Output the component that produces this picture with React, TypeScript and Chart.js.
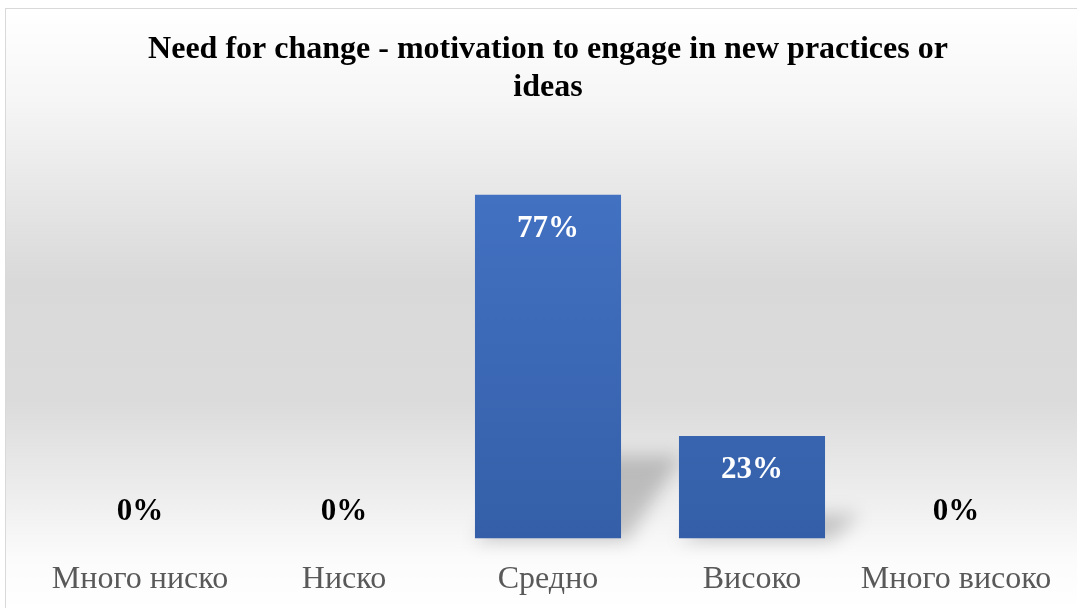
import React, { useEffect, useRef } from "react";
import { Chart, registerables } from "chart.js";

Chart.register(...registerables);

const categories = ["Много ниско", "Ниско", "Средно", "Високо", "Много високо"];
const values = [0, 0, 77, 23, 0];
const titleLines = ["Need for change - motivation to engage in new practices or", "ideas"];

const SERIF = "'Liberation Serif', 'Times New Roman', serif";
const VISIBLE_H = 603;
const CANVAS_H = 632;

const bgPlugin = {
  id: "bgGradient",
  beforeDraw(chart: any) {
    const { ctx, width, height } = chart;
    const g = ctx.createLinearGradient(0, 0, 0, VISIBLE_H);
    g.addColorStop(0, "#ffffff");
    g.addColorStop(0.15, "#f6f6f6");
    g.addColorStop(0.45, "#d9d9d9");
    g.addColorStop(0.65, "#dbdbdb");
    g.addColorStop(0.81, "#eeeeee");
    g.addColorStop(0.91, "#fbfbfb");
    g.addColorStop(1, "#ffffff");
    ctx.save();
    ctx.fillStyle = g;
    ctx.fillRect(0, 0, width, height);
    ctx.restore();
  },
};

const shadowPlugin = {
  id: "barShadow",
  beforeDatasetsDraw(chart: any) {
    const { ctx } = chart;
    const meta = chart.getDatasetMeta(0);
    ctx.save();
    ctx.filter = "blur(9px)";
    ctx.fillStyle = "rgba(0,0,0,0.2)";
    meta.data.forEach((bar: any, i: number) => {
      const v = values[i];
      if (!v) return;
      const half = bar.width / 2;
      const left = bar.x - half;
      const right = bar.x + half;
      const base = bar.base;
      const h = base - bar.y;
      const sh = h * 0.24;
      const s = 24 + sh * 0.45;
      ctx.beginPath();
      ctx.moveTo(left, base + 2);
      ctx.lineTo(right + 6, base + 2);
      ctx.lineTo(right + s, base - sh);
      ctx.lineTo(left + s, base - sh);
      ctx.closePath();
      ctx.fill();
    });
    ctx.restore();
  },
};

const labelPlugin = {
  id: "valueLabels",
  afterDatasetsDraw(chart: any) {
    const { ctx } = chart;
    const meta = chart.getDatasetMeta(0);
    ctx.save();
    ctx.font = `bold 31px ${SERIF}`;
    ctx.textAlign = "center";
    ctx.textBaseline = "middle";
    meta.data.forEach((bar: any, i: number) => {
      const v = values[i];
      const txt = `${v}%`;
      if (v > 0) {
        ctx.fillStyle = "#ffffff";
        ctx.fillText(txt, bar.x, bar.y + 34);
      } else {
        ctx.fillStyle = "#000000";
        ctx.fillText(txt, bar.x, bar.base - 27);
      }
    });
    ctx.restore();
  },
};

export default function App() {
  const ref = useRef<HTMLCanvasElement | null>(null);
  useEffect(() => {
    if (!ref.current) return;
    const chart = new Chart(ref.current, {
      type: "bar",
      data: {
        labels: categories,
        datasets: [
          {
            data: values,
            backgroundColor: (c: any) => {
              const ch = c.chart;
              const area = ch.chartArea;
              if (!area) return "#4472c4";
              const el = c.element;
              const top = el && typeof el.y === "number" ? el.y : area.top;
              const base = el && typeof el.base === "number" ? el.base : area.bottom;
              const g = ch.ctx.createLinearGradient(0, top, 0, Math.max(base, top + 1));
              g.addColorStop(0, "#4574c6");
              g.addColorStop(1, "#345fa8");
              return g;
            },
            borderWidth: 0,
            categoryPercentage: 1,
            barPercentage: 0.716,
          },
        ],
      },
      options: {
        responsive: false,
        animation: false,
        layout: { padding: { left: 32, right: 32, top: 0, bottom: 20 } },
        plugins: {
          legend: { display: false },
          tooltip: { enabled: false },
          title: {
            display: true,
            text: titleLines,
            color: "#000000",
            font: { family: SERIF, size: 32, weight: "bold", lineHeight: 1.16 },
            padding: { top: 22.6, bottom: 30.8 },
          },
        },
        scales: {
          x: {
            grid: { display: false, drawTicks: false },
            border: { display: false },
            ticks: {
              color: "#595959",
              font: { family: SERIF, size: 32 },
              padding: 22,
              maxRotation: 0,
            },
          },
          y: {
            display: false,
            min: 0,
            max: 90,
          },
        },
      },
      plugins: [bgPlugin, shadowPlugin, labelPlugin],
    });
    return () => chart.destroy();
  }, []);

  return (
    <div
      style={{
        position: "fixed",
        left: 5,
        top: 8,
        width: 1086,
        height: 605,
        border: "1px solid #d9d9d9",
        boxSizing: "border-box",
        overflow: "hidden",
      }}
    >
      <canvas ref={ref} width={1084} height={CANVAS_H} style={{ display: "block" }} />
    </div>
  );
}
